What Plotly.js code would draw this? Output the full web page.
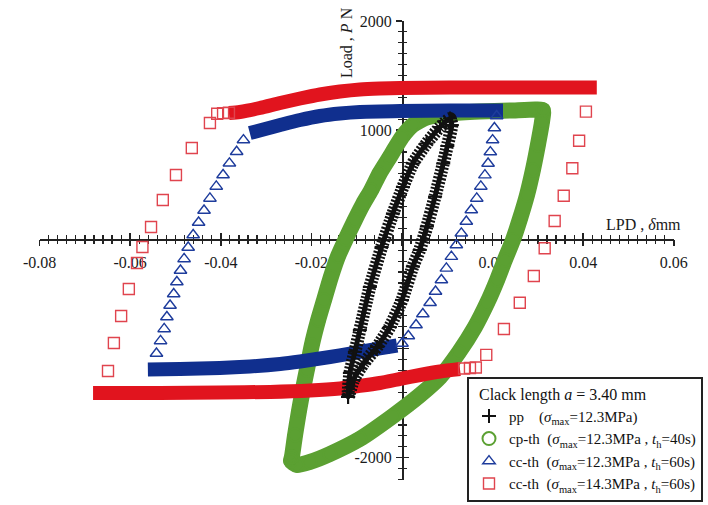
<!DOCTYPE html>
<html>
<head>
<meta charset="utf-8">
<script src="https://cdn.plot.ly/plotly-3.0.1.min.js"></script>
<style>
  html, body { margin: 0; padding: 0; background: #fff; }
  #chart { width: 708px; height: 505px; }
</style>
</head>
<body>
<div id="chart"></div>
<script>
// Load–displacement hysteresis loops, crack length a = 3.40 mm

// pp (σmax = 12.3 MPa)
const ppX = [-0.0119, -0.0115, -0.0104, -0.0093, -0.0071, -0.0045, -0.0020, 0.0002, 0.0024, 0.0054, 0.0084, 0.0106,
             0.0110, 0.0100, 0.0091, 0.0073, 0.0055, 0.0039, 0.0024, 0.0000, -0.0027, -0.0055, -0.0085, -0.0107, -0.0119];
const ppY = [-1444, -1224, -1031, -831, -437, -71, 236, 479, 694, 877, 1028, 1106,
             1047, 854, 694, 392, 117, -98, -249, -556, -803, -986, -1137, -1288, -1444];

// cp-th (σmax = 12.3 MPa, th = 40 s)
const cpX = [-0.0243, -0.0236, -0.0227, -0.0219, -0.0210, -0.0199, -0.0185, -0.0172, -0.0157, -0.0141, -0.0124,
             -0.0104, -0.0086, -0.0068, -0.0049, -0.0027, 0.0000, 0.0024, 0.0055, 0.0106, 0.0172, 0.0238, 0.0294,
             0.0311, 0.0309, 0.0300, 0.0289, 0.0276, 0.0261, 0.0245, 0.0227, 0.0210, 0.0188, 0.0161, 0.0126,
             0.0084, 0.0040, -0.0020, -0.0093, -0.0159, -0.0203, -0.0232, -0.0245, -0.0243];
const cpY = [-1994, -1792, -1563, -1380, -1197, -968, -739, -556, -345, -153, 3,
             177, 323, 451, 607, 754, 937, 1047, 1115, 1152, 1170, 1179, 1189,
             1184, 1074, 864, 635, 406, 195, -6, -189, -372, -583, -803, -1032,
             -1261, -1426, -1618, -1828, -1966, -2039, -2067, -2030, -1994];

// cc-th (σmax = 12.3 MPa, th = 60 s): hold segments and loading/unloading points
const cc12HoldUpX = [-0.0336, -0.0302, -0.0269, -0.0225, -0.0181, -0.0137, -0.0093, -0.0004, 0.0106, 0.0223];
const cc12HoldUpY = [973, 1010, 1046, 1092, 1129, 1152, 1166, 1175, 1179, 1179];
const cc12HoldLowX = [-0.0011, -0.0049, -0.0093, -0.0137, -0.0181, -0.0225, -0.0269, -0.0336, -0.0402, -0.0490, -0.0561];
const cc12HoldLowY = [-973, -1000, -1032, -1064, -1092, -1119, -1142, -1165, -1179, -1188, -1192];
const cc12UnloadX = [0.0209, 0.0204, 0.0200, 0.0195, 0.0190, 0.0183, 0.0174, 0.0165, 0.0153, 0.0142, 0.0131,
                     0.0120, 0.0109, 0.0098, 0.0087, 0.0074, 0.0062, 0.0046, 0.0031, 0.0014, 0.0000];
const cc12UnloadY = [1129, 1019, 909, 799, 694, 588, 484, 374, 268, 163, 55,
                     -52, -159, -266, -373, -478, -581, -684, -785, -886, -954];
const cc12ReloadX = [-0.0542, -0.0533, -0.0525, -0.0519, -0.0512, -0.0504, -0.0497, -0.0489, -0.0481, -0.0472,
                     -0.0461, -0.0449, -0.0437, -0.0424, -0.0410, -0.0395, -0.0381, -0.0365, -0.0350];
const cc12ReloadY = [-1046, -931, -821, -712, -606, -501, -391, -286, -180, -75,
                     39, 154, 264, 374, 484, 589, 696, 802, 909];

// cc-th (σmax = 14.3 MPa, th = 60 s)
const cc14HoldUpX = [-0.0382, -0.0358, -0.0314, -0.0269, -0.0225, -0.0181, -0.0137, -0.0093, -0.0049, -0.0004,
                     0.0106, 0.0216, 0.0327, 0.0430];
const cc14HoldUpY = [1157, 1166, 1202, 1248, 1289, 1326, 1353, 1372, 1381, 1386, 1390, 1390, 1390, 1390];
const cc14HoldLowX = [0.0128, 0.0084, 0.0040, -0.0004, -0.0049, -0.0093, -0.0137, -0.0203, -0.0291, -0.0402,
                      -0.0534, -0.0682];
const cc14HoldLowY = [-1188, -1211, -1243, -1279, -1316, -1343, -1366, -1385, -1398, -1403, -1408, -1408];
const cc14UnloadX = [0.0406, 0.0391, 0.0376, 0.0357, 0.0337, 0.0315, 0.0291, 0.0260, 0.0225, 0.0186,
                     0.0163, 0.0150, 0.0137];
const cc14UnloadY = [1169, 903, 650, 399, 168, -82, -336, -581, -821, -1059, -1174, -1179, -1183];
const cc14ReloadX = [-0.0649, -0.0636, -0.0620, -0.0603, -0.0585, -0.0573, -0.0554, -0.0528, -0.0499, -0.0464,
                     -0.0424, -0.0408, -0.0395, -0.0382];
const cc14ReloadY = [-1206, -950, -702, -455, -217, -71, 113, 360, 589, 836, 1065, 1150, 1155, 1159];

// Axis ticks
const xTickVals = [-0.08, -0.06, -0.04, -0.02, 0.02, 0.04, 0.06];
const xTickText = ['-0.08', '-0.06', '-0.04', '-0.02', '0.02', '0.04', '0.06'];
const yTickVals = [-2000, -1000, 1000, 2000];
const yTickText = ['-2000', '-1000', '1000', '2000'];
const xMajorStep = 0.02, xMinorStep = 0.002;
const yMajorStep = 1000, yMinorStep = 100;

// Legend labels
const NB = '\u00a0';
const legendTitle = NB + NB + 'Clack length <i>a</i> = 3.40 mm';
const seriesNames = [
  'pp' + NB + NB + NB + NB + '(<i>σ</i><sub>max</sub>=12.3MPa)',
  'cp-th' + NB + NB + '(<i>σ</i><sub>max</sub>=12.3MPa , <i>t</i><sub>h</sub>=40s)',
  'cc-th' + NB + NB + '(<i>σ</i><sub>max</sub>=12.3MPa , <i>t</i><sub>h</sub>=60s)',
  'cc-th' + NB + NB + '(<i>σ</i><sub>max</sub>=14.3MPa , <i>t</i><sub>h</sub>=60s)'
];

const GREEN = '#5ba032';
const BLUE = '#102f8e';
const BLUE_MARK = '#1e3c9c';
const RED = '#e1141e';
const RED_MARK = '#e0444e';
const BLACK = '#111111';
const SERIF = 'Liberation Serif, Times New Roman, serif';

// join two segments with a gap
const joinSeg = (a, b) => a.concat([null], b);

const traces = [
  // cp-th loop: dense band + circles
  { x: cpX, y: cpY, mode: 'lines', line: { color: GREEN, width: 16, shape: 'spline', smoothing: 0.6 },
    showlegend: false, hoverinfo: 'skip' },
  { x: cpX, y: cpY, mode: 'markers', name: seriesNames[1], legendrank: 2,
    marker: { symbol: 'circle-open', size: 13, color: GREEN, line: { width: 2, color: GREEN } } },

  // cc-th 12.3 MPa
  { x: joinSeg(cc12HoldUpX, cc12HoldLowX), y: joinSeg(cc12HoldUpY, cc12HoldLowY), mode: 'lines',
    line: { color: BLUE, width: 14, shape: 'spline', smoothing: 0.6 }, connectgaps: false,
    showlegend: false, hoverinfo: 'skip' },
  { x: joinSeg(cc12UnloadX, cc12ReloadX), y: joinSeg(cc12UnloadY, cc12ReloadY), mode: 'markers',
    name: seriesNames[2], legendrank: 3,
    marker: { symbol: 'triangle-up-open', size: 11, color: BLUE_MARK, line: { width: 1.4, color: BLUE_MARK } } },

  // cc-th 14.3 MPa
  { x: joinSeg(cc14HoldUpX, cc14HoldLowX), y: joinSeg(cc14HoldUpY, cc14HoldLowY), mode: 'lines',
    line: { color: RED, width: 14, shape: 'spline', smoothing: 0.6 }, connectgaps: false,
    showlegend: false, hoverinfo: 'skip' },
  { x: joinSeg(cc14UnloadX, cc14ReloadX), y: joinSeg(cc14UnloadY, cc14ReloadY), mode: 'markers',
    name: seriesNames[3], legendrank: 4,
    marker: { symbol: 'square-open', size: 11, color: RED_MARK, line: { width: 1.4, color: RED_MARK } } },

  // pp loop: hatched band of crosses
  { x: ppX, y: ppY, mode: 'lines', line: { color: BLACK, width: 13, dash: '2px,1.6px', shape: 'spline', smoothing: 0.5 },
    showlegend: false, hoverinfo: 'skip' },
  { x: ppX, y: ppY, mode: 'lines', line: { color: BLACK, width: 5, shape: 'spline', smoothing: 0.5 },
    showlegend: false, hoverinfo: 'skip' },
  { x: ppX, y: ppY, mode: 'markers', name: seriesNames[0], legendrank: 1,
    marker: { symbol: 'cross-thin', size: 10, color: BLACK, line: { width: 2, color: BLACK } } },

  // empty traces that attach the two tick-only overlay axes pairs
  { x: [], y: [], xaxis: 'x2', yaxis: 'y2', mode: 'markers', showlegend: false, hoverinfo: 'skip' },
  { x: [], y: [], xaxis: 'x3', yaxis: 'y3', mode: 'markers', showlegend: false, hoverinfo: 'skip' }
];

const W = 708, H = 505;
const axisColor = '#222';
const tickFont = { family: SERIF, size: 16, color: '#1a1a1a' };

// pixel placement of the crossing axes
const xDomain = [39.6 / W, 673.8 / W];
const yDomain = [(H - 479.5) / H, (H - 20.9) / H];
const xAxisPos = (H - 239.3) / H;   // y = 0
const yAxisPos = 402 / W;           // x = 0
const xRange = [-0.08, 0.06];
const yRange = [-2200, 2000];

const common = { showgrid: false, zeroline: false, fixedrange: true, layer: 'below traces' };

// crossing ticks: one overlay axis draws them outward, another inward
function xTickAxis(dir) {
  return Object.assign({}, common, {
    overlaying: 'x', range: xRange, anchor: 'free', position: xAxisPos, showline: false,
    showticklabels: false, tickmode: 'linear', tick0: 0, dtick: xMajorStep,
    ticks: dir, ticklen: 6, tickwidth: 1.5, tickcolor: axisColor,
    minor: { tickmode: 'linear', tick0: 0, dtick: xMinorStep, ticks: dir, ticklen: 4, tickwidth: 1.2, tickcolor: axisColor }
  });
}
function yTickAxis(dir) {
  return Object.assign({}, common, {
    overlaying: 'y', range: yRange, anchor: 'free', position: yAxisPos, side: 'left', showline: false,
    showticklabels: false, tickmode: 'linear', tick0: 0, dtick: yMajorStep,
    ticks: dir, ticklen: 6, tickwidth: 1.5, tickcolor: axisColor,
    minor: { tickmode: 'linear', tick0: 0, dtick: yMinorStep, ticks: dir, ticklen: 4, tickwidth: 1.2, tickcolor: axisColor }
  });
}

const layout = {
  width: W, height: H,
  margin: { l: 0, r: 0, t: 0, b: 0 },
  paper_bgcolor: '#fff', plot_bgcolor: '#fff',
  hovermode: false,
  showlegend: true,
  xaxis: Object.assign({}, common, {
    domain: xDomain, range: xRange, anchor: 'free', position: xAxisPos,
    showline: true, linecolor: axisColor, linewidth: 1.5, ticks: '',
    tickmode: 'array', tickvals: xTickVals, ticktext: xTickText, tickfont: tickFont, ticklabelstandoff: 8
  }),
  xaxis2: xTickAxis('outside'),
  xaxis3: xTickAxis('inside'),
  yaxis: Object.assign({}, common, {
    domain: yDomain, range: yRange, anchor: 'free', position: yAxisPos, side: 'left',
    showline: true, linecolor: axisColor, linewidth: 1.5, ticks: '',
    tickmode: 'array', tickvals: yTickVals, ticktext: yTickText, tickfont: tickFont, ticklabelstandoff: 7
  }),
  yaxis2: yTickAxis('outside'),
  yaxis3: yTickAxis('inside'),
  legend: {
    x: 467 / W, y: (H - 377) / H, xanchor: 'left', yanchor: 'top',
    bgcolor: '#fff', bordercolor: '#222', borderwidth: 2,
    font: { family: SERIF, size: 15, color: '#111' },
    title: { text: legendTitle, font: { family: SERIF, size: 16, color: '#111' } },
    itemwidth: 30, traceorder: 'normal', tracegroupgap: 0
  },
  annotations: [
    { text: 'Load , <i>P</i> N', xref: 'paper', yref: 'paper', x: 347 / W, y: (H - 43) / H,
      textangle: -90, showarrow: false, xanchor: 'center', yanchor: 'middle',
      font: { family: SERIF, size: 16, color: '#1a1a1a' } },
    { text: 'LPD , <i>δ</i>mm', xref: 'paper', yref: 'paper', x: 643 / W, y: (H - 225) / H,
      showarrow: false, xanchor: 'center', yanchor: 'middle',
      font: { family: SERIF, size: 16, color: '#1a1a1a' } }
  ]
};

Plotly.newPlot('chart', traces, layout, { staticPlot: true, displayModeBar: false });
</script>
</body>
</html>
